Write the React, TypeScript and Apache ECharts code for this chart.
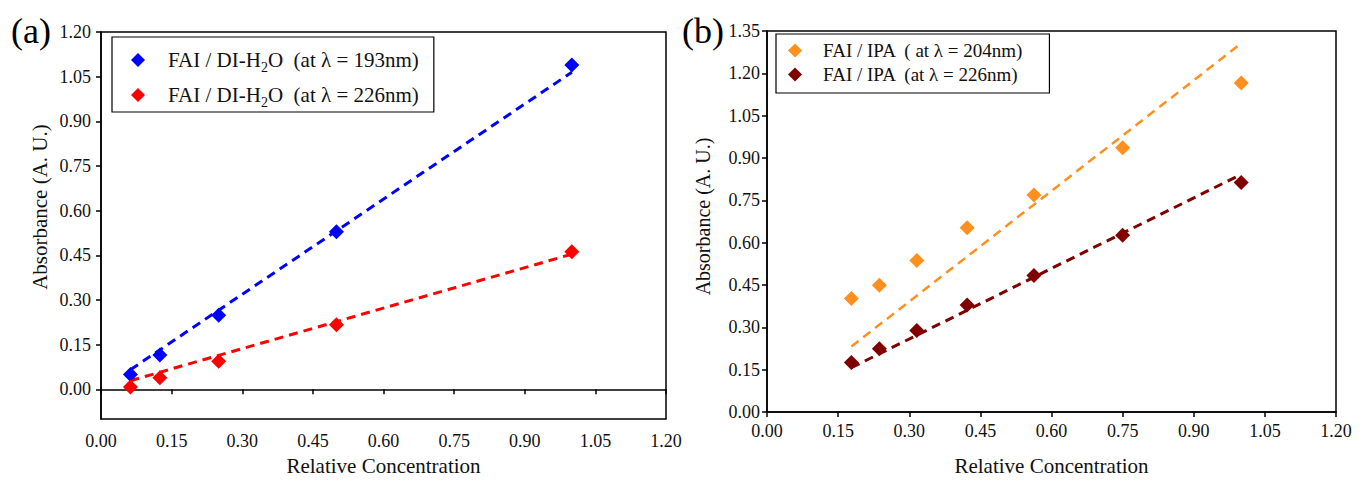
import React, { useEffect, useRef } from "react";
import * as echarts from "echarts";

// Panel (a): FAI / DI-H2O
const concA = [0.0625, 0.125, 0.25, 0.5, 1.0];
const absA193 = [0.05, 0.115, 0.249, 0.529, 1.089];
const absA226 = [0.008, 0.039, 0.094, 0.217, 0.462];
const fitXA = [0.0625, 1.0];
const fitA193 = [0.066, 1.065];
const fitA226 = [0.029, 0.454];

// Panel (b): FAI / IPA
const concB = [0.178, 0.237, 0.316, 0.422, 0.563, 0.75, 1.0];
const absB204 = [0.402, 0.449, 0.537, 0.653, 0.769, 0.936, 1.166];
const absB226 = [0.175, 0.224, 0.289, 0.379, 0.484, 0.626, 0.813];
const fitXB = [0.178, 1.0];
const fitB204 = [0.232, 1.306];
const fitB226 = [0.157, 0.842];

const yTicksA = [0, 0.15, 0.3, 0.45, 0.6, 0.75, 0.9, 1.05, 1.2];

const nameA193 = "FAI / DI-H2O  (at λ = 193nm)";
const nameA226 = "FAI / DI-H2O  (at λ = 226nm)";
const nameB204 = "FAI / IPA  ( at λ = 204nm)";
const nameB226 = "FAI / IPA  (at λ = 226nm)";

const FONT = "'Liberation Serif', 'Times New Roman', serif";

const pair = (xs: number[], ys: number[]) => xs.map((x, i) => [x, ys[i]]);

export default function App() {
  const ref = useRef<HTMLDivElement>(null);
  useEffect(() => {
    document.body.style.margin = "0";
    const chart = echarts.init(ref.current!, null, { renderer: "svg" });
    const axisLine = { show: true, lineStyle: { color: "#000", width: 1.5 } };
    const axisTick = { show: true, inside: false, length: 5, lineStyle: { color: "#000", width: 1.5 } };
    const labelStyle = { fontFamily: FONT, fontSize: 18, color: "#111" };
    const nameStyle = { fontFamily: FONT, fontSize: 21, color: "#111" };
    const fmt = (v: number) => v.toFixed(2);
    const xAxisBase = (gridIndex: number, margin: number, nameGap: number) => ({
      gridIndex,
      type: "value",
      min: 0,
      max: 1.2,
      interval: 0.15,
      axisLine,
      axisTick,
      splitLine: { show: false },
      axisLabel: { ...labelStyle, margin, formatter: fmt },
      name: "Relative Concentration",
      nameLocation: "middle",
      nameGap,
      nameTextStyle: nameStyle,
    });
    const richLegend = (size: number, lh: number) => ({
      a: { fontFamily: FONT, fontSize: size, color: "#111", lineHeight: lh },
      s: { fontFamily: FONT, fontSize: Math.round(size * 0.66), color: "#111", lineHeight: 12, padding: [14, 0, 0, 0] },
    });
    const legendFmt = (name: string) => {
      if (name.includes("H2O")) {
        const [pre, post] = name.split("H2O");
        return `{a|${pre}H}{s|2}{a|O${post}}`;
      }
      return `{a|${name}}`;
    };
    const dashedLine = (
      name: string,
      xi: number,
      xs: number[],
      ys: number[],
      color: string,
      width: number
    ) => ({
      name,
      type: "line",
      xAxisIndex: xi,
      yAxisIndex: xi,
      data: pair(xs, ys),
      symbol: "none",
      lineStyle: { color, width, type: [9, 6] },
      z: 2,
      silent: true,
    });
    const scatter = (name: string, xi: number, ys: number[], xs: number[], color: string) => ({
      name,
      type: "scatter",
      xAxisIndex: xi,
      yAxisIndex: xi,
      data: pair(xs, ys),
      symbol: "diamond",
      symbolSize: 15,
      itemStyle: { color, opacity: 1 },
      z: 3,
    });

    chart.setOption({
      animation: false,
      backgroundColor: "#fff",
      textStyle: { fontFamily: FONT },
      grid: [
        { left: 101, top: 32, width: 565, height: 391, show: true, borderColor: "#000", borderWidth: 1.5, backgroundColor: "transparent" },
        { left: 767, top: 31, width: 569, height: 382, show: true, borderColor: "#000", borderWidth: 1.5, backgroundColor: "transparent" },
      ],
      xAxis: [xAxisBase(0, 13, 33), xAxisBase(1, 10, 43)],
      yAxis: [
        {
          gridIndex: 0,
          type: "value",
          min: -0.1,
          max: 1.2,
          axisLine,
          axisTick: { ...axisTick, customValues: yTicksA },
          splitLine: { show: false },
          axisLabel: { ...labelStyle, margin: 10, formatter: fmt, customValues: yTicksA },
          name: "Absorbance (A. U.)",
          nameLocation: "middle",
          nameGap: 51,
          nameTextStyle: { ...nameStyle, padding: [0, 0, 0, 37] },
        },
        {
          gridIndex: 1,
          type: "value",
          min: 0,
          max: 1.35,
          interval: 0.15,
          axisLine,
          axisTick,
          splitLine: { show: false },
          axisLabel: { ...labelStyle, margin: 7, formatter: fmt },
          name: "Absorbance (A. U.)",
          nameLocation: "middle",
          nameGap: 54,
          nameTextStyle: { ...nameStyle, fontSize: 20, padding: [0, 0, 0, 10] },
        },
      ],
      legend: [
        {
          data: [nameA193, nameA226],
          orient: "vertical",
          left: 112,
          top: 37,
          itemWidth: 14,
          itemHeight: 14,
          itemGap: 7,
          icon: "diamond",
          borderColor: "#000",
          borderWidth: 1.2,
          padding: [9, 15, 3, 19],
          backgroundColor: "#fff",
          formatter: legendFmt,
          textStyle: { fontFamily: FONT, fontSize: 21, color: "#111", padding: [0, 0, 0, 18], rich: richLegend(21, 24) },
        },
        {
          data: [nameB204, nameB226],
          orient: "vertical",
          left: 776,
          top: 34,
          itemWidth: 14,
          itemHeight: 14,
          itemGap: 5,
          icon: "diamond",
          borderColor: "#000",
          borderWidth: 1.2,
          padding: [7, 26, 9, 12],
          backgroundColor: "#fff",
          formatter: legendFmt,
          textStyle: { fontFamily: FONT, fontSize: 19, color: "#111", padding: [0, 0, 0, 16], rich: richLegend(19, 22) },
        },
      ],
      graphic: [
        { type: "text", left: 11, top: 13, style: { text: "(a)", fontFamily: FONT, fontSize: 36, fill: "#000" } },
        { type: "text", left: 682, top: 13, style: { text: "(b)", fontFamily: FONT, fontSize: 36, fill: "#000" } },
      ],
      series: [
        dashedLine("fitA193", 0, fitXA, fitA193, "#0000FF", 3),
        dashedLine("fitA226", 0, fitXA, fitA226, "#FF0000", 3),
        scatter(nameA193, 0, absA193, concA, "#0000FF"),
        scatter(nameA226, 0, absA226, concA, "#FF0000"),
        dashedLine("fitB204", 1, fitXB, fitB204, "#FF901E", 2.5),
        dashedLine("fitB226", 1, fitXB, fitB226, "#800000", 3),
        scatter(nameB204, 1, absB204, concB, "#FF901E"),
        scatter(nameB226, 1, absB226, concB, "#800000"),
      ],
    });
    return () => chart.dispose();
  }, []);
  return <div ref={ref} style={{ position: "absolute", left: 0, top: 0, width: 1369, height: 481 }} />;
}
